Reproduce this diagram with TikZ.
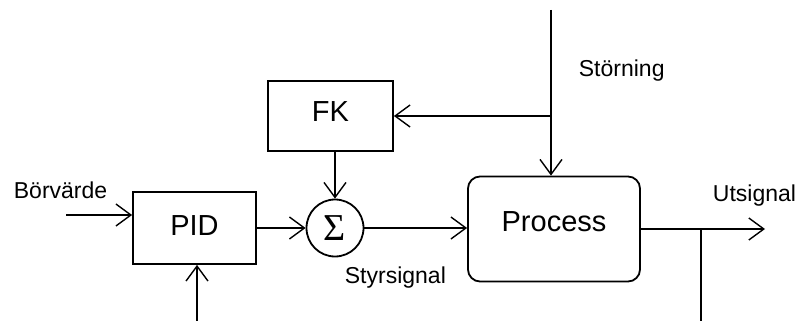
\documentclass[tikz,border=0pt]{standalone}
\usepackage{fontspec}
\setmainfont{Liberation Sans}
\newfontfamily\sigmafont{Liberation Serif}
\usetikzlibrary{arrows.meta}

\begin{document}
\begin{tikzpicture}
  [x=1pt,y=-1pt,line width=1.8pt,
   >={Straight Barb[length=15pt,width=22pt,line width=1.4pt]},
   block/.style={draw,rectangle,inner sep=0pt,font=\fontsize{29}{29}\selectfont},
   txt/.style={inner sep=0pt,anchor=base west,font=\fontsize{23}{23}\selectfont}]
  \useasboundingbox (0,0) rectangle (801,321);

  % Block och summapunkt
  \node[block,minimum width=123pt,minimum height=72pt,text depth=5pt] (pid) at (194.5,228) {PID};
  \node[block,minimum width=125pt,minimum height=70pt,text depth=9pt] (fk) at (330.5,116) {FK};
  \node[block,rounded corners=12pt,minimum width=172pt,minimum height=105pt,text depth=14pt] (process) at (554,229) {Process};
  \node[draw,circle,minimum size=57pt,inner sep=0pt,font=\sigmafont\fontsize{38}{38}\selectfont] (sum) at (335,228) {Σ};

  % In- och utgångar
  \coordinate (bv) at (66,215);
  \coordinate (pidin) at (197,321);
  \coordinate (st) at (551,10);
  \coordinate (stgren) at (551,116);
  \coordinate (utgren) at (701,229);
  \coordinate (ut) at (765,229);
  \coordinate (aterf) at (701,321);

  % Signalvägar
  \draw[->] (bv) -- (bv -| pid.west);
  \draw[->] (pidin) -- (pidin |- pid.south);
  \draw[->] (pid.east) -- (sum.west);
  \draw[->] (st) -- (st |- process.north);
  \draw[->] (stgren) -- (stgren -| fk.east);
  \draw[->] (sum.north |- fk.south) -- (sum.north);
  \draw[->] (sum.east) -- (sum.east -| process.west);
  \draw[->] (process.east) -- (ut);
  \draw (utgren) -- (aterf);

  % Etiketter
  \node[txt] (borvarde) at (13,198) {Börvärde};
  \node[txt] (styrsignal) at (344,283) {Styrsignal};
  \node[txt] (storning) at (578,77) {Störning};
  \node[txt] (utsignal) at (712,201) {Utsignal};
\end{tikzpicture}
\end{document}
